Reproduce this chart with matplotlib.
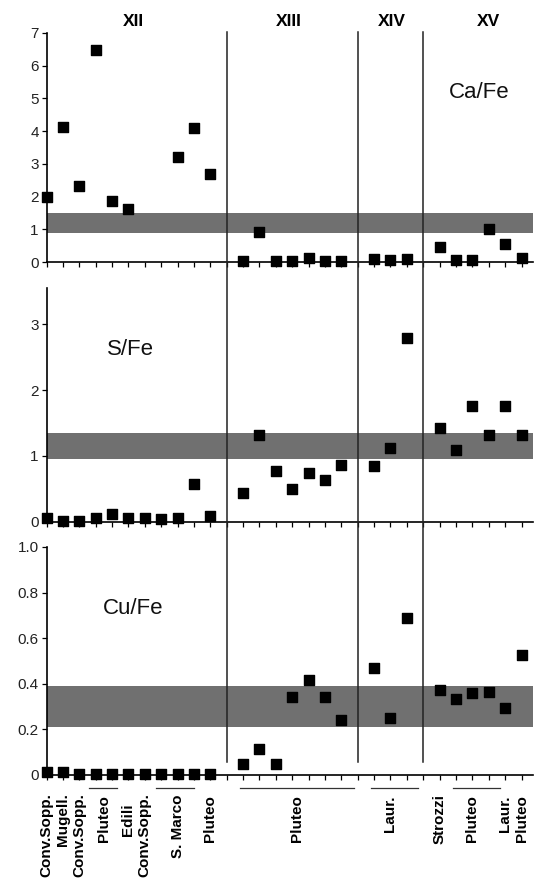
import matplotlib
matplotlib.use("Agg")
import matplotlib.pyplot as plt
import numpy as np
from matplotlib.lines import Line2D
from matplotlib.transforms import blended_transform_factory

plt.rcParams['font.family'] = ['Liberation Sans', 'DejaVu Sans']

nan = np.nan
# sample positions 0..29 (dividers fall on 11, 19, 23)
xpos = np.arange(30)

ca_fe = [2.0, 4.12, 2.33, 6.48, 1.86, 1.62, nan, nan, 3.22, 4.1, 2.7, nan,
         0.03, 0.92, 0.03, 0.03, 0.11, 0.02, 0.03, nan,
         0.09, 0.06, 0.08, nan,
         0.47, 0.07, 0.07, 1.02, 0.54, 0.13]
s_fe = [0.05, 0.01, 0.01, 0.05, 0.11, 0.05, 0.05, 0.04, 0.05, 0.57, 0.08, nan,
        0.43, 1.32, 0.77, 0.5, 0.74, 0.63, 0.86, nan,
        0.84, 1.12, 2.79, nan,
        1.43, 1.09, 1.76, 1.31, 1.76, 1.31]
cu_fe = [0.015, 0.015, 0.005, 0.005, 0.005, 0.005, 0.005, 0.005, 0.005, 0.005, 0.005, nan,
         0.049, 0.115, 0.049, 0.34, 0.416, 0.344, 0.24, nan,
         0.47, 0.248, 0.69, nan,
         0.373, 0.335, 0.36, 0.364, 0.295, 0.527]

ratio_names = ["Ca/Fe", "S/Fe", "Cu/Fe"]
bands = [(0.88, 1.5), (0.95, 1.34), (0.21, 0.39)]
ylims = [(0, 7), (0, 3.55), (0, 1.0)]
yticks = [[0, 1, 2, 3, 4, 5, 6, 7], [0, 1, 2, 3], [0, 0.2, 0.4, 0.6, 0.8, 1.0]]
yticklabels = [["0", "1", "2", "3", "4", "5", "6", "7"], ["0", "1", "2", "3"],
               ["0", "0.2", "0.4", "0.6", "0.8", "1.0"]]
name_pos = [(26.4, 5.17), (5.1, 2.61), (5.27, 0.73)]

dividers = [11, 19, 23]
periods = ["XII", "XIII", "XIV", "XV"]
period_x = [5.3, 14.8, 21.1, 27.0]

shelf_x = [0, 1, 2, 3.5, 5, 6, 8, 10, 15.3, 21, 24, 26, 28, 29]
shelf_text = ["Conv.Sopp.", "Mugell.", "Conv.Sopp.", "Pluteo", "Edili", "Conv.Sopp.",
              "S. Marco", "Pluteo", "Pluteo", "Laur.", "Strozzi", "Pluteo", "Laur.", "Pluteo"]
shelf_top = [793, 793, 793, 795, 803, 793, 794, 795, 795, 795, 794, 795, 795, 795]
brackets = [(2.6, 4.3), (6.7, 9.0), (11.8, 18.8), (19.8, 22.7), (24.8, 27.7)]

fig = plt.figure(figsize=(5.38, 8.81), dpi=100)
W, H = 538, 881
left = 46.5 / W
width = (533 - 46.5) / W
boxes = [(33, 262), (288, 521.7), (547, 775)]

axes = []
for i, vals in enumerate([ca_fe, s_fe, cu_fe]):
    top, bot = boxes[i]
    ax = fig.add_axes([left, 1 - bot / H, width, (bot - top) / H])
    ax.axhspan(bands[i][0], bands[i][1], color='#707070', lw=0, zorder=1)
    ax.scatter(xpos, vals, marker='s', s=58, color='black', zorder=5, clip_on=False)
    ax.set_xlim(0, 29.7)
    ax.set_ylim(*ylims[i])
    ax.set_yticks(yticks[i])
    ax.set_yticklabels(yticklabels[i], fontsize=11, color='#222222')
    ax.set_xticks(xpos)
    ax.set_xticklabels([])
    for s in ['top', 'right']:
        ax.spines[s].set_visible(False)
    for s in ['left', 'bottom']:
        ax.spines[s].set_linewidth(1.2)
    ax.tick_params(axis='both', direction='out', length=3.5, width=0.9, pad=2)
    ax.text(name_pos[i][0], name_pos[i][1], ratio_names[i], fontsize=16,
            ha='center', va='center', color='#111111')
    axes.append(ax)

# vertical century dividers through all panels
trans = blended_transform_factory(axes[0].transData, fig.transFigure)
for d in dividers:
    fig.add_artist(Line2D([d, d], [1 - 32 / H, 1 - 762 / H], transform=trans,
                          color='#222222', lw=1.1))

for px, p in zip(period_x, periods):
    fig.text(trans.transform((px, 0))[0] / fig.bbox.width, 1 - 22 / H, p,
             fontsize=12.5, fontweight='bold', ha='center', va='center')

# shelf-mark labels under bottom axis
tb = blended_transform_factory(axes[2].transData, fig.transFigure)
for a, b in brackets:
    fig.add_artist(Line2D([a, b], [1 - 788 / H, 1 - 788 / H], transform=tb,
                          color='#333333', lw=0.9))
for x, t, yt in zip(shelf_x, shelf_text, shelf_top):
    axes[2].text(x, 1 - yt / H, t, transform=tb, rotation=90, ha='center', va='top',
                 fontsize=11, fontweight='bold')

fig.savefig('out.png', dpi=100)
